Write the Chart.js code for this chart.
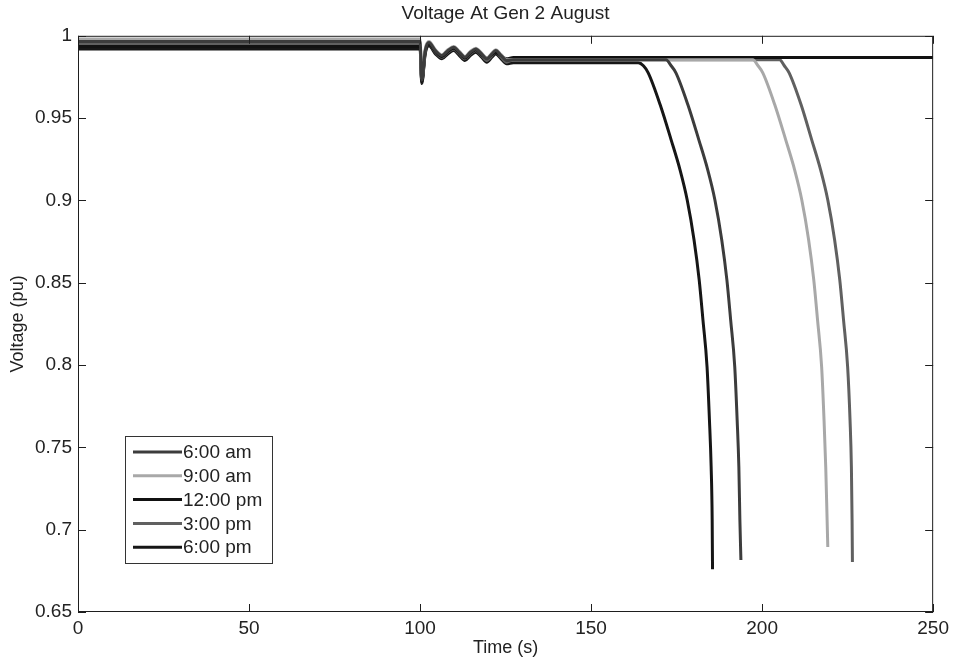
<!DOCTYPE html>
<html>
<head>
<meta charset="utf-8">
<title>Voltage At Gen 2 August</title>
<script src="https://cdn.jsdelivr.net/npm/chart.js@4.4.1/dist/chart.umd.min.js"></script>
<style>
  html, body { margin: 0; padding: 0; background: #fff; overflow: hidden; }
  canvas { display: block; }
</style>
</head>
<body>
<canvas id="voltChart" width="954" height="663"></canvas>
<script>
// Voltage at Gen 2, August - five load snapshots

const xTicks = [0, 50, 100, 150, 200, 250];
const yTicks = [0.65, 0.7, 0.75, 0.8, 0.85, 0.9, 0.95, 1];

const seriesLabels = ['6:00 am', '9:00 am', '12:00 pm', '3:00 pm', '6:00 pm'];
const seriesColors = ['#3c3c3c', '#a8a8a8', '#111111', '#606060', '#161616'];

// level before the disturbance at t = 100 s
const vPre = [0.9965, 0.998, 0.9935, 0.995, 0.992];

// swing after the disturbance (same time stamps for every series)
const tEvent = [100.5, 101.5, 102.6, 104.5, 106.4, 108.1, 109.8, 111.5, 113.1, 114.7, 116.3, 118.0, 119.5, 121.0, 122.1, 123.7, 125.3, 127.3];
const ev6am  = [0.973, 0.991, 0.996, 0.991, 0.988, 0.991, 0.993, 0.990, 0.987, 0.990, 0.992, 0.989, 0.986, 0.989, 0.991, 0.988, 0.985, 0.9854];
const ev9am  = [0.974, 0.992, 0.9965, 0.9915, 0.9885, 0.9915, 0.9935, 0.9905, 0.9875, 0.9905, 0.9925, 0.9895, 0.9865, 0.9895, 0.9915, 0.9885, 0.9855, 0.9854];
const ev12pm = [0.972, 0.990, 0.995, 0.9905, 0.9875, 0.9905, 0.9925, 0.9895, 0.9865, 0.9895, 0.9915, 0.9885, 0.9865, 0.9885, 0.990, 0.988, 0.986, 0.9868];
const ev3pm  = [0.972, 0.990, 0.995, 0.990, 0.987, 0.990, 0.992, 0.989, 0.986, 0.989, 0.991, 0.988, 0.985, 0.988, 0.990, 0.987, 0.984, 0.9854];
const ev6pm  = [0.971, 0.989, 0.994, 0.989, 0.986, 0.989, 0.991, 0.988, 0.985, 0.988, 0.990, 0.987, 0.984, 0.987, 0.989, 0.986, 0.983, 0.9836];

// flat part and voltage collapse
const tTail6am  = [171.9, 173.4, 174.8, 178.3, 181.5, 184.1, 186.2, 188.2, 189.7, 190.8, 192.0, 192.7, 193.2, 193.5, 193.8];
const vTail6am  = [0.9854, 0.9818, 0.9775, 0.9581, 0.9368, 0.9186, 0.9003, 0.876, 0.8517, 0.8274, 0.7989, 0.7667, 0.7381, 0.7059, 0.6816];
const tTail9am  = [197.3, 198.8, 200.2, 203.7, 206.9, 209.5, 211.6, 213.6, 215.1, 216.2, 217.4, 218.1, 218.6, 219.0, 219.2];
const vTail9am  = [0.9854, 0.9818, 0.9775, 0.9581, 0.9368, 0.9186, 0.9003, 0.876, 0.8517, 0.8274, 0.7989, 0.7667, 0.7381, 0.7059, 0.6895];
const tTail12pm = [250];
const vTail12pm = [0.9868];
const tTail3pm  = [205.1, 206.5, 207.9, 211.4, 214.5, 217.1, 219.2, 221.2, 222.7, 223.8, 225.0, 225.7, 226.1, 226.3, 226.4];
const vTail3pm  = [0.9854, 0.9818, 0.9775, 0.9581, 0.9368, 0.9186, 0.9003, 0.876, 0.8517, 0.8274, 0.7989, 0.7667, 0.7381, 0.7059, 0.6804];
const tTail6pm  = [163.8, 165.3, 166.7, 170.2, 173.4, 176.0, 178.1, 180.1, 181.6, 182.7, 183.9, 184.6, 185.1, 185.4, 185.5];
const vTail6pm  = [0.9836, 0.9818, 0.9775, 0.9581, 0.9368, 0.9186, 0.9003, 0.876, 0.8517, 0.8274, 0.7989, 0.7667, 0.7381, 0.7059, 0.676];

const eventVals = [ev6am, ev9am, ev12pm, ev3pm, ev6pm];
const tailTimes = [tTail6am, tTail9am, tTail12pm, tTail3pm, tTail6pm];
const tailVals  = [vTail6am, vTail9am, vTail12pm, vTail3pm, vTail6pm];

const FONT = '"Liberation Sans", Arial, Helvetica, sans-serif';
const TEXT = '#222222';

const buildPoints = (i) => {
    const pts = [{ x: 0, y: vPre[i] }, { x: 100, y: vPre[i] }];
    tEvent.forEach((t, k) => pts.push({ x: t, y: eventVals[i][k] }));
    tailTimes[i].forEach((t, k) => pts.push({ x: t, y: tailVals[i][k] }));
    return pts;
};

// MATLAB style box, inward ticks and boxed legend
const matlabFrame = {
    id: 'matlabFrame',
    afterDraw(chart) {
        const { ctx, chartArea: a, scales: { x, y } } = chart;
        const len = 8;
        ctx.save();
        ctx.strokeStyle = '#1e1e1e';
        ctx.lineWidth = 1;
        ctx.strokeRect(a.left + 0.5, a.top + 0.5, a.right - a.left - 1, a.bottom - a.top - 1);
        ctx.beginPath();
        x.ticks.forEach(t => {
            const px = Math.round(x.getPixelForValue(t.value)) + 0.5;
            ctx.moveTo(px, a.bottom); ctx.lineTo(px, a.bottom - len);
            ctx.moveTo(px, a.top); ctx.lineTo(px, a.top + len);
        });
        y.ticks.forEach(t => {
            const py = Math.round(y.getPixelForValue(t.value)) + 0.5;
            ctx.moveTo(a.left, py); ctx.lineTo(a.left + len, py);
            ctx.moveTo(a.right, py); ctx.lineTo(a.right - len, py);
        });
        ctx.stroke();

        // legend
        const lg = { left: a.left + 47, top: a.bottom - 176, width: 147, height: 127 };
        ctx.fillStyle = '#ffffff';
        ctx.fillRect(lg.left, lg.top, lg.width, lg.height);
        ctx.strokeStyle = '#333333';
        ctx.strokeRect(lg.left + 0.5, lg.top + 0.5, lg.width, lg.height);
        ctx.font = '19px ' + FONT;
        ctx.textBaseline = 'middle';
        chart.data.datasets.forEach((ds, i) => {
            const yy = lg.top + 16 + i * 23.8;
            ctx.strokeStyle = ds.borderColor;
            ctx.lineWidth = 3;
            ctx.beginPath();
            ctx.moveTo(lg.left + 8, yy);
            ctx.lineTo(lg.left + 57, yy);
            ctx.stroke();
            ctx.fillStyle = TEXT;
            ctx.fillText(ds.label, lg.left + 58, yy + 1);
        });
        ctx.restore();
    }
};

document.addEventListener('DOMContentLoaded', function() {
    const ctx = document.getElementById('voltChart').getContext('2d');
    new Chart(ctx, {
        type: 'line',
        data: {
            datasets: seriesLabels.map((label, i) => ({
                label: label,
                data: buildPoints(i),
                borderColor: seriesColors[i],
                borderWidth: 3,
                pointRadius: 0,
                fill: false,
                cubicInterpolationMode: 'monotone'
            }))
        },
        options: {
            responsive: false,
            animation: false,
            devicePixelRatio: 1,
            layout: { padding: { left: 0, right: 18, top: 0, bottom: 0 } },
            scales: {
                x: {
                    type: 'linear',
                    min: 0,
                    max: 250,
                    afterBuildTicks: (s) => { s.ticks = xTicks.map(v => ({ value: v })); },
                    afterFit: (s) => { s.height = 51; },
                    grid: { display: false, drawTicks: false },
                    border: { display: false },
                    ticks: { color: TEXT, padding: 5, font: { family: FONT, size: 19 }, maxRotation: 0 },
                    title: {
                        display: true,
                        text: 'Time (s)',
                        color: TEXT,
                        font: { family: FONT, size: 18 },
                        padding: { top: 0, bottom: 4 }
                    }
                },
                y: {
                    type: 'linear',
                    min: 0.65,
                    max: 1,
                    afterBuildTicks: (s) => { s.ticks = yTicks.map(v => ({ value: v })); },
                    afterFit: (s) => { s.width = 78; },
                    grid: { display: false, drawTicks: false },
                    border: { display: false },
                    ticks: {
                        color: TEXT,
                        padding: 6,
                        font: { family: FONT, size: 19 },
                        callback: (v) => String(parseFloat(Number(v).toFixed(2)))
                    },
                    title: {
                        display: true,
                        text: 'Voltage (pu)',
                        color: TEXT,
                        font: { family: FONT, size: 18 },
                        padding: { top: 7, bottom: 0 }
                    }
                }
            },
            plugins: {
                legend: { display: false },
                tooltip: { enabled: false },
                title: {
                    display: true,
                    text: 'Voltage At Gen 2 August',
                    fullSize: false,
                    color: TEXT,
                    font: { family: FONT, size: 19, weight: 'normal' },
                    padding: { top: 2, bottom: 11 }
                }
            }
        },
        plugins: [matlabFrame]
    });
});
</script>
</body>
</html>
